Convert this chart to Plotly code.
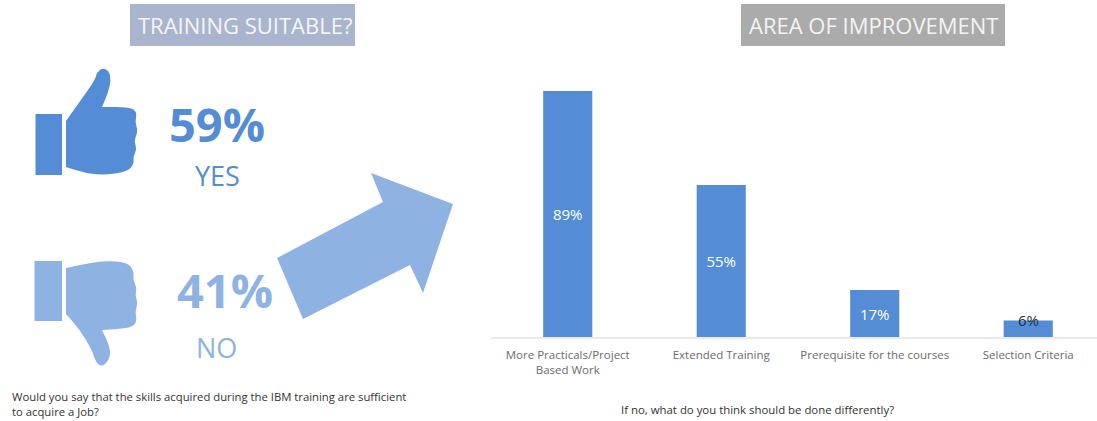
import plotly.graph_objects as go

WIDTH, HEIGHT = 1097, 421

categories = ["More Practicals/Project<br>Based Work", "Extended Training",
              "Prerequisite for the courses", "Selection Criteria"]
improvement_pct = [89, 55, 17, 6]
answers = ["YES", "NO"]
answer_pct = [59, 41]

BLUE = "#548DD6"
LIGHT = "#8EB3E2"

# Decorative pictograms, outlined in image pixels
thumb_up = [(66, 121), (66, 121), (83, 97), (95, 80), (97, 72), (103, 68), (109, 71), (111, 80), (108, 93),
            (102, 107), (102, 107), (130, 107), (137, 112), (135, 122), (138, 131), (134, 141),
            (137, 149), (133, 157), (134, 164), (127, 172), (103, 175), (85, 173), (66, 167), (66, 167)]
thumb_down = [(66, 268), (66, 268), (84, 264), (104, 261), (127, 262), (134, 271), (133, 280), (137, 288),
              (135, 295), (138, 303), (135, 312), (137, 321), (132, 328), (102, 330), (102, 330),
              (110, 347), (110, 358), (103, 367), (96, 363), (92, 350), (80, 330), (66, 314), (66, 314)]
arrow = [(277, 258), (383, 202), (371, 173), (453, 204), (423, 293), (410, 265), (303, 319)]


def px(x, y):
    return x / WIDTH, 1 - y / HEIGHT


def poly(points):
    pts = [px(*p) for p in points]
    return "M" + " L".join(f"{x:.5f},{y:.5f}" for x, y in pts) + " Z"


def smooth(points):
    pts = [px(*p) for p in points]
    n = len(pts)
    mid = lambda a, b: ((a[0] + b[0]) / 2, (a[1] + b[1]) / 2)
    s = mid(pts[-1], pts[0])
    d = f"M{s[0]:.5f},{s[1]:.5f}"
    for i in range(n):
        m = mid(pts[i], pts[(i + 1) % n])
        d += f" Q{pts[i][0]:.5f},{pts[i][1]:.5f} {m[0]:.5f},{m[1]:.5f}"
    return d + " Z"


def box(x0, y0, x1, y1, color):
    ax, ay = px(x0, y0)
    bx, by = px(x1, y1)
    return dict(type="rect", xref="paper", yref="paper", x0=ax, y0=ay, x1=bx, y1=by,
                fillcolor=color, line_width=0, layer="below")


def path(d, color):
    return dict(type="path", xref="paper", yref="paper", path=d, fillcolor=color,
                line_width=0, layer="below")


def note(x, y, text, size, color, anchor="center", bold=False):
    ax, ay = px(x, y)
    return dict(xref="paper", yref="paper", x=ax, y=ay, text=f"<b>{text}</b>" if bold else text,
                showarrow=False, xanchor=anchor, yanchor="middle", align="left",
                font=dict(family="Open Sans", size=size, color=color))


# The last label straddles the bar's top in a darker colour, so it is placed at its value
bar_labels = [f"{v}%" for v in improvement_pct[:-1]] + [""]

fig = go.Figure(go.Bar(
    x=categories, y=improvement_pct, width=0.32,
    marker=dict(color=BLUE, line_width=0),
    text=bar_labels,
    textposition="inside", insidetextanchor="middle", constraintext="none", textangle=0,
    insidetextfont=dict(family="Open Sans", size=15, color="#ffffff"),
    hoverinfo="skip",
))

fig.update_layout(
    width=WIDTH, height=HEIGHT, autosize=False,
    margin=dict(l=0, r=0, t=0, b=0),
    paper_bgcolor="white", plot_bgcolor="white", showlegend=False,
    xaxis=dict(domain=[491 / WIDTH, 1], range=[-0.5, 3.448], type="category",
               showgrid=False, ticks="", showline=True, linecolor="#EAEAEA", linewidth=2,
               ticklabelstandoff=6,
               tickfont=dict(family="Open Sans", size=11.5, color="#6B6B6B")),
    yaxis=dict(domain=[1 - 337 / HEIGHT, 1 - 91 / HEIGHT], range=[0, 89], visible=False),
    shapes=[
        box(130, 4, 355, 46, "#A9B5CC"),
        box(741, 4, 1005, 46, "#ABABAB"),
        box(35.5, 114, 62, 175, BLUE),
        path(smooth(thumb_up), BLUE),
        box(34.5, 261, 62, 321, LIGHT),
        path(smooth(thumb_down), LIGHT),
        path(poly(arrow), LIGHT),
    ],
    annotations=[
        note(245, 25, "TRAINING SUITABLE?", 22, "#F4F6FA"),
        note(873, 25, "AREA OF IMPROVEMENT", 22, "#F4F4F4"),
        note(217, 124, f"{answer_pct[0]}%", 47, BLUE, bold=True),
        note(217, 175, answers[0], 27, BLUE),
        note(225, 290, f"{answer_pct[1]}%", 47, LIGHT, bold=True),
        note(216, 347, answers[1], 27, LIGHT),
        note(10, 404, "Would you say that the skills acquired during the IBM training are sufficient<br>to acquire a Job?",
             11.3, "#333333", anchor="left"),
        note(757, 409, "If no, what do you think should be done differently?", 11.4, "#333333"),
        dict(xref="x", yref="y", x=categories[-1], y=improvement_pct[-1], text=f"{improvement_pct[-1]}%",
             showarrow=False, xanchor="center", yanchor="middle",
             font=dict(family="Open Sans", size=15, color="#1F2D3D")),
    ],
)

fig.write_html("out.html", config={"displayModeBar": False},
               post_script="document.body.style.margin='0';document.body.style.overflow='hidden';")
